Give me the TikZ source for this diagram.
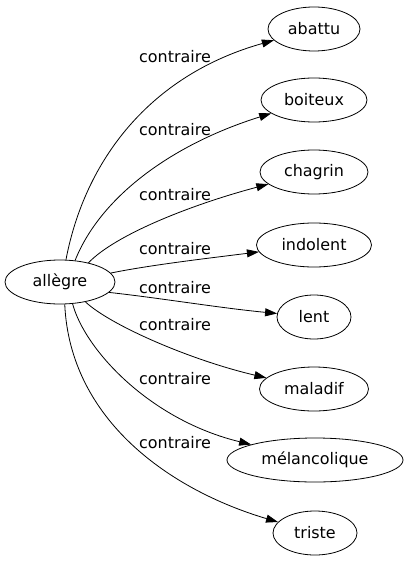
\documentclass[tikz,border=0pt]{standalone}
\usepackage{fontspec}
\setmainfont{DejaVu Sans}
\usetikzlibrary{shapes.geometric,arrows.meta}
\begin{document}
\begin{tikzpicture}[x=1bp,y=-1bp,
  word/.style={draw,ellipse,line width=0.8bp,minimum height=44bp,inner sep=0pt,font=\fontsize{16}{18}\selectfont},
  rel/.style={font=\fontsize{16}{18}\selectfont,inner sep=0pt},
  link/.style={line width=0.8bp,-{Triangle[length=12bp,width=8bp]}}]
\useasboundingbox (0,0) rectangle (404,563);
\node[word,minimum width=110bp] (al) at (60,282) {allègre};
\node[word,minimum width=92bp]  (n1) at (314,29) {abattu};
\node[word,minimum width=106bp] (n2) at (314,100) {boiteux};
\node[word,minimum width=108bp] (n3) at (314,172) {chagrin};
\node[word,minimum width=115bp] (n4) at (314,245) {indolent};
\node[word,minimum width=74bp]  (n5) at (314,317) {lent};
\node[word,minimum width=109bp] (n6) at (314,389) {maladif};
\node[word,minimum width=176bp] (n7) at (315,460) {mélancolique};
\node[word,minimum width=84bp]  (n8) at (315,533) {triste};
\node[rel] (l1) at (175,57) {contraire};
\node[rel] (l2) at (175,130) {contraire};
\node[rel] (l3) at (175,195) {contraire};
\node[rel] (l4) at (175,249) {contraire};
\node[rel] (l5) at (175,288) {contraire};
\node[rel] (l6) at (175,325) {contraire};
\node[rel] (l7) at (175,379) {contraire};
\node[rel] (l8) at (175,443) {contraire};
\draw[link] (al.75) .. controls (85,160) and (150,75) .. (n1);
\draw[link] (al.55) .. controls (100,198) and (170,145) .. (n2);
\draw[link] (al.34) .. controls (115,235) and (190,205) .. (n3);
\draw[link] (al.10) .. controls (150,265) and (210,258) .. (n4);
\draw[link] (al.-12) .. controls (160,298) and (220,308) .. (n5);
\draw[link] (al.-38) .. controls (110,325) and (190,360) .. (n6);
\draw[link] (al.-60) .. controls (85,350) and (150,420) .. (n7);
\draw[link] (al.-78) .. controls (70,420) and (170,490) .. (n8);
\end{tikzpicture}
\end{document}
